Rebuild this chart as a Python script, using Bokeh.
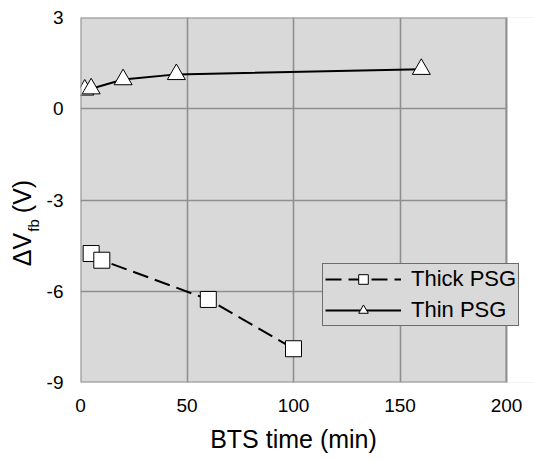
from bokeh.plotting import figure
from bokeh.layouts import row
from bokeh.models import Range1d, FixedTicker, Legend, LegendItem, Label, BoxAnnotation, Title
from bokeh.embed import file_html
from bokeh.resources import INLINE
import math

# ---- data ----
thick_x = [5, 10, 60, 100]
thick_y = [-4.76, -4.98, -6.27, -7.89]
thin_x = [2, 5, 20, 45, 160]
thin_y = [0.62, 0.66, 0.96, 1.13, 1.30]

x_ticks = [0, 50, 100, 150, 200]
x_tick_labels = ["0", "50", "100", "150", "200"]
y_ticks = [-9, -6, -3, 0, 3]
y_tick_labels = ["-9", "-6", "-3", "0", "3"]

series_names = ["Thick PSG", "Thin PSG"]
x_title = "BTS time (min)"

FONT = "Liberation Sans"
GRID = "#8f8f8f"
BG = "#d9d9d9"

# layout sizes (pixels)
LABEL_W = 42          # strip holding the y title
AXIS_W = 38           # room for the y tick labels
DATA_W = 426          # width of the grey data area
FRAME_W = 453         # frame continues to the right edge so the legend is not clipped
FRAME_H = 365

x_min, x_max = x_ticks[0], x_ticks[-1]
y_min, y_max = y_ticks[0], y_ticks[-1]
x_end = x_min + (x_max - x_min) * FRAME_W / DATA_W

p = figure(frame_width=FRAME_W, frame_height=FRAME_H,
           min_border_left=AXIS_W, min_border_right=0,
           min_border_top=17, min_border_bottom=79,
           x_range=Range1d(x_min, x_end), y_range=Range1d(y_min, y_max),
           output_backend="svg", toolbar_location=None)

p.background_fill_color = BG
p.border_fill_color = "white"
p.outline_line_color = None

for ax in (p.xaxis[0], p.yaxis[0]):
    ax.axis_line_color = None
    ax.major_tick_line_color = None
    ax.minor_tick_line_color = None
    ax.major_tick_out = 0
    ax.major_tick_in = 0
    ax.minor_tick_out = 0
    ax.minor_tick_in = 0
    ax.axis_label_standoff = 0
    ax.major_label_text_font = FONT
    ax.major_label_text_font_size = "19px"
    ax.major_label_text_color = "black"

p.xaxis.ticker = FixedTicker(ticks=x_ticks)
p.yaxis.ticker = FixedTicker(ticks=y_ticks)
p.xaxis.major_label_overrides = dict(zip(x_ticks, x_tick_labels))
p.yaxis.major_label_overrides = dict(zip(y_ticks, y_tick_labels))
p.xaxis.major_label_standoff = 16
p.yaxis.major_label_standoff = 17

p.xgrid.grid_line_color = GRID
p.ygrid.grid_line_color = GRID
p.xgrid.grid_line_width = 1.6
p.ygrid.grid_line_width = 1.6

# white strip right of the data area, then the grey border of the data area
p.add_layout(BoxAnnotation(left=x_max, fill_color="white", fill_alpha=1,
                           line_color=None, level="glyph"))
p.add_layout(BoxAnnotation(left=x_min, right=x_max, bottom=y_min, top=y_max,
                           fill_color=None, fill_alpha=0, line_color=GRID,
                           line_width=2, line_alpha=1, level="glyph"))

# x title, centred under the grey data area
xt_size = 25
xt_width = 6.667 * xt_size
p.add_layout(Title(text=x_title, align="left",
                   offset=DATA_W / 2 - xt_width / 2,
                   text_font=FONT, text_font_size=f"{xt_size}px",
                   text_font_style="normal", text_color="black",
                   standoff=17), "below")

# ---- series ----
thick_line = p.line(thick_x, thick_y, line_color="black", line_width=2, line_dash="16 7")
thick_pts = p.scatter(thick_x, thick_y, marker="square", size=16,
                      fill_color="white", line_color="black", line_width=1)
thin_line = p.line(thin_x, thin_y, line_color="black", line_width=2)
thin_pts = p.scatter(thin_x, thin_y, marker="triangle", size=18,
                     fill_color="white", line_color="black", line_width=1)

legend = Legend(items=[LegendItem(label=series_names[0], renderers=[thick_line, thick_pts]),
                       LegendItem(label=series_names[1], renderers=[thin_line, thin_pts])],
                location=(242, 56))
legend.label_text_font = FONT
legend.label_text_font_size = "22px"
legend.label_text_color = "black"
legend.glyph_width = 76
legend.glyph_height = 24
legend.label_height = 24
legend.spacing = 5
legend.padding = 2
legend.margin = 0
legend.label_standoff = 10
legend.border_line_color = "black"
legend.border_line_width = 1
legend.background_fill_color = BG
legend.background_fill_alpha = 1
p.add_layout(legend, "center")

# ---- y title (with subscript) in its own narrow strip, centre-anchored ----
H = 461
q = figure(frame_width=LABEL_W, frame_height=H, min_border=0,
           x_range=Range1d(0, LABEL_W), y_range=Range1d(0, H),
           x_axis_location=None, y_axis_location=None,
           output_backend="svg", toolbar_location=None)
q.outline_line_color = None
q.background_fill_color = "white"
q.xgrid.visible = False
q.ygrid.visible = False
common = dict(angle=math.pi / 2, text_font=FONT, text_color="black",
              text_align="center", text_baseline="middle")
q.add_layout(Label(x=21, y=H - 232, text="\u0394V", text_font_size="25px", **common))
q.add_layout(Label(x=33, y=H - 208, text="fb", text_font_size="15px", **common))
q.add_layout(Label(x=21, y=H - 179, text="(V)", text_font_size="25px", **common))

layout = row(q, p)
open("out.html", "w").write(file_html(layout, INLINE))
